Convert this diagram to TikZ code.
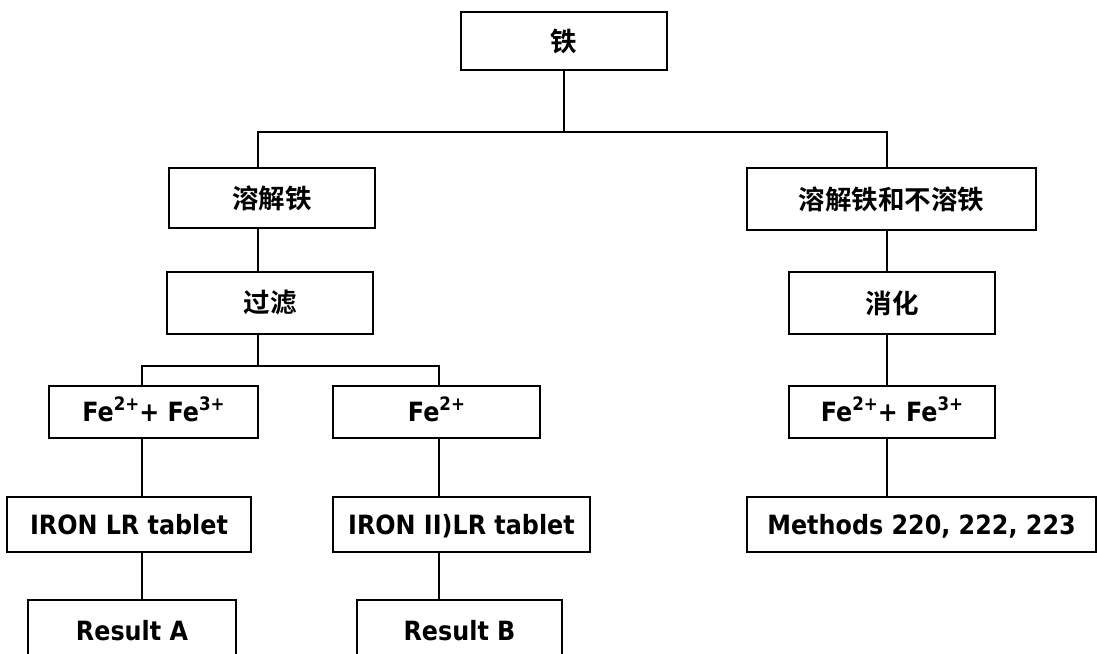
\documentclass[tikz,border=0pt]{standalone}
\usepackage{fontspec}
\setmainfont{DejaVu Sans}[FakeStretch=0.9]
\newfontfamily\cjk{Noto Sans CJK SC}[BoldFont={Noto Sans CJK SC Bold}]
\newcommand\ionsup[1]{\raisebox{0.42em}{\fontsize{18.5}{20}\selectfont #1}}
\begin{document}
\begin{tikzpicture}[x=1pt,y=1pt,
  box/.style={draw, line width=1.8pt, rectangle, inner sep=0pt,
    text height=22pt, text depth=2.5pt,
    font=\bfseries\fontsize{26.5}{32}\selectfont},
  cbox/.style={draw, line width=1.8pt, rectangle, inner sep=0pt,
    font=\cjk\bfseries\fontsize{26.5}{32}\selectfont},
  conn/.style={line width=1.4pt}]
\useasboundingbox (0,0) rectangle (1097,-653);
% nodes
\node[cbox, minimum width=206pt, minimum height=58pt] (tie) at (564,-41) {铁};
\node[cbox, minimum width=206pt, minimum height=60pt] (rj) at (272,-198) {溶解铁};
\node[cbox, minimum width=206pt, minimum height=62pt] (gl) at (270,-303) {过滤};
\node[box, minimum width=209pt, minimum height=52pt] (fe1) at (153.5,-412) {Fe\ionsup{2+}+ Fe\ionsup{3+}};
\node[box, minimum width=207pt, minimum height=52pt] (fe2) at (436.5,-412) {Fe\ionsup{2+}};
\node[box, minimum width=244pt, minimum height=55pt] (iron1) at (129,-524.5) {IRON LR tablet};
\node[box, minimum width=257pt, minimum height=55pt] (iron2) at (461.5,-524.5) {IRON II)LR tablet};
\node[box, minimum width=208pt, minimum height=62pt] (resA) at (132,-631) {Result A};
\node[box, minimum width=205pt, minimum height=62pt] (resB) at (459.5,-631) {Result B};
\node[cbox, minimum width=289pt, minimum height=62pt] (rjb) at (891.5,-199) {溶解铁和不溶铁};
\node[cbox, minimum width=206pt, minimum height=62pt] (xh) at (892,-303) {消化};
\node[box, minimum width=206pt, minimum height=52pt] (fe3) at (892,-412) {Fe\ionsup{2+}+ Fe\ionsup{3+}};
\node[box, minimum width=349pt, minimum height=55pt] (meth) at (921.5,-524.5) {Methods 220, 222, 223};
% junction coordinates
\coordinate (j1) at (564,-132);
\coordinate (jL) at (258,-132);
\coordinate (jR) at (887,-132);
\coordinate (j2) at (258,-366);
\coordinate (j2L) at (142,-366);
\coordinate (j2R) at (439,-366);
% connectors
\draw[conn] (tie.south) -- (j1);
\draw[conn] (rj.north -| jL) -- (jL) -- (jR) -- (rjb.north -| jR);
\draw[conn] (rj.south -| jL) -- (gl.north -| jL);
\draw[conn] (gl.south -| j2) -- (j2);
\draw[conn] (fe1.north -| j2L) -- (j2L) -- (j2R) -- (fe2.north -| j2R);
\draw[conn] (fe1.south -| j2L) -- (iron1.north -| j2L);
\draw[conn] (iron1.south -| j2L) -- (resA.north -| j2L);
\draw[conn] (fe2.south -| j2R) -- (iron2.north -| j2R);
\draw[conn] (iron2.south -| j2R) -- (resB.north -| j2R);
\draw[conn] (rjb.south -| jR) -- (xh.north -| jR);
\draw[conn] (xh.south -| jR) -- (fe3.north -| jR);
\draw[conn] (fe3.south -| jR) -- (meth.north -| jR);
\end{tikzpicture}
\end{document}
